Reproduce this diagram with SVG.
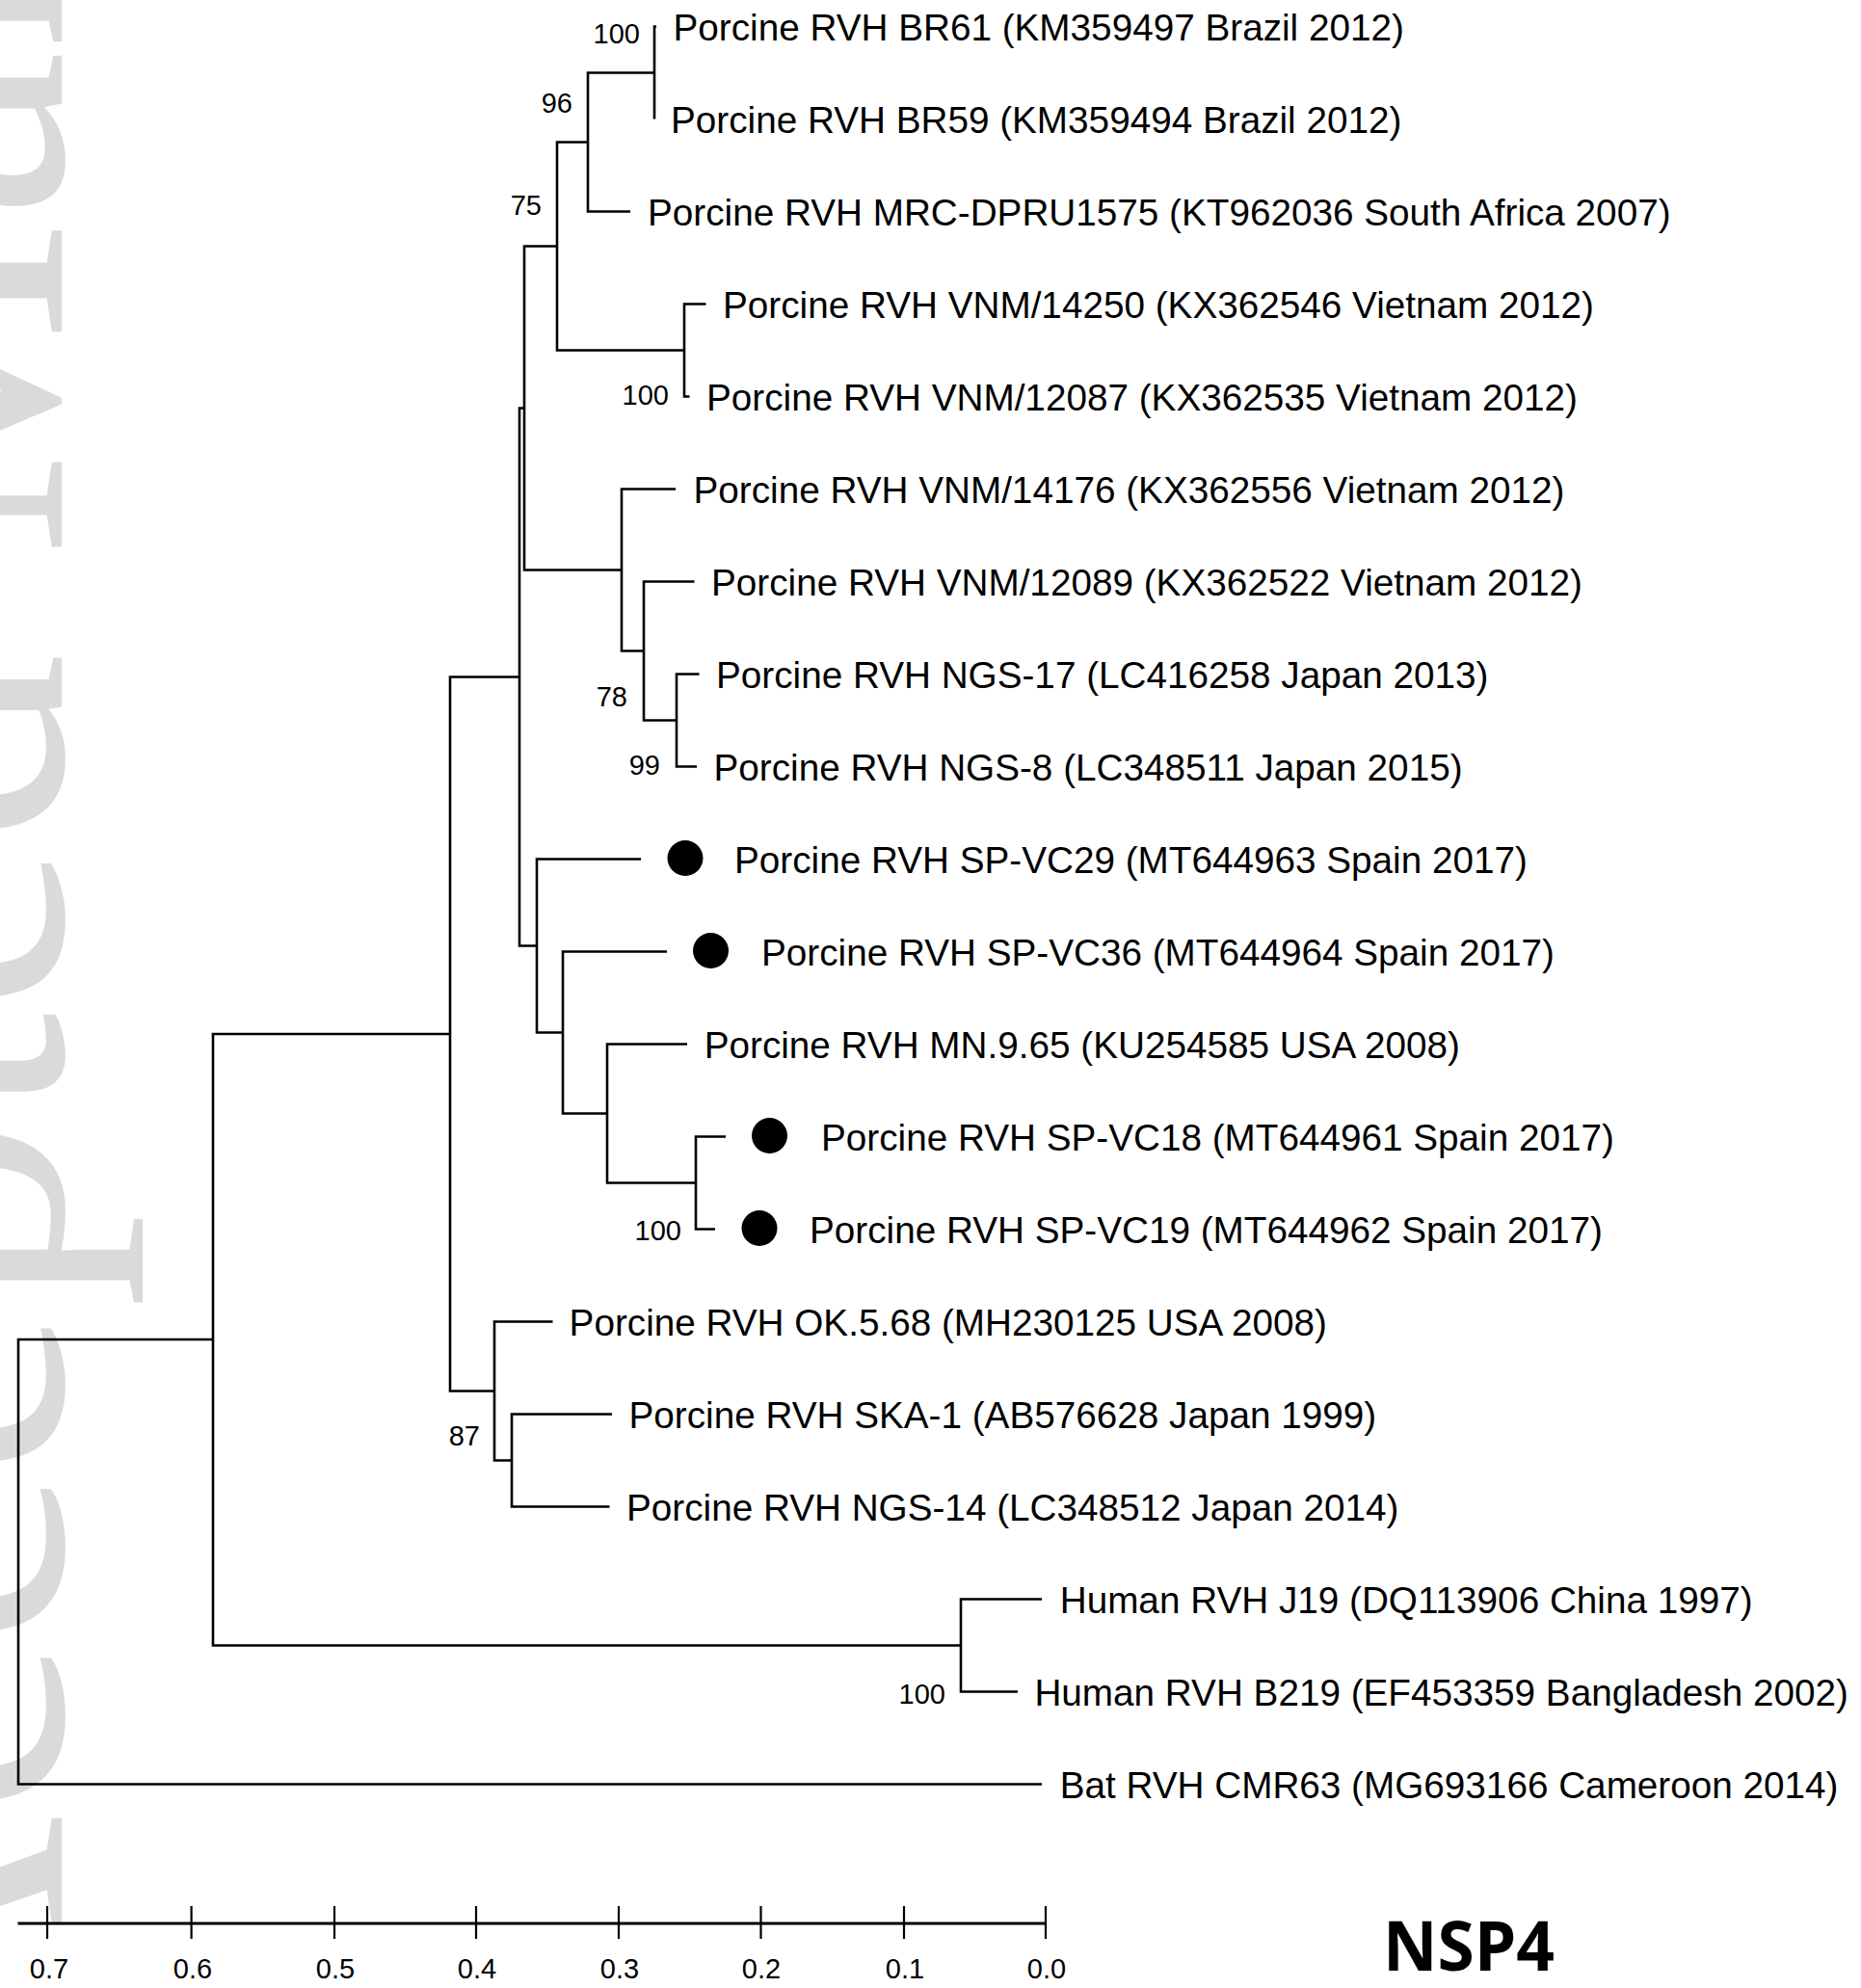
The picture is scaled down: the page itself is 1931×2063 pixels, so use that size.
<svg xmlns="http://www.w3.org/2000/svg" width="1931" height="2063" viewBox="0 0 1931 2063">
<style>
.wm{font-family:"Liberation Serif","Times New Roman",serif;font-size:395px;fill:#dadada}
.lf{font-family:"Liberation Sans",Arial,sans-serif;font-size:38.7px;fill:#000}
.bs{font-family:"Liberation Sans",Arial,sans-serif;font-size:29px;fill:#000;text-anchor:end}
.sc{font-family:"Liberation Sans",Arial,sans-serif;font-size:29px;fill:#000;text-anchor:middle}
.br{fill:none;stroke:#000;stroke-width:2.6;stroke-linejoin:miter;stroke-linecap:butt}
.tk{fill:none;stroke:#000;stroke-width:2.2}
.dot{fill:#000}
.title{font-family:"Open Sans","Liberation Sans",sans-serif;font-weight:bold;font-size:72px;fill:#000}
</style>
<rect width="1931" height="2063" fill="#fff"/>
<text class="wm" transform="translate(64,2169) rotate(-90)">Accepted Manuscript</text>

<g id="connectors">
<path class="br" d="M221 1390 H19 V1851.5 H1081"/>
<path class="br" d="M467 1073 H221 V1707.5 H997"/>
<path class="br" d="M1081 1659.5 H997 V1755.5 H1056"/>
<path class="br" d="M539 702.5 H467 V1443.5 H513"/>
<path class="br" d="M573.5 1371.5 H513 V1515.5 H531"/>
<path class="br" d="M635 1467.5 H531 V1563.5 H632.5"/>
<path class="br" d="M544 423.5 H539 V981.5 H557"/>
<path class="br" d="M578 255.5 H544 V591.5 H645"/>
<path class="br" d="M610 147.5 H578 V363.5 H710"/>
<path class="br" d="M679 75.5 H610 V219.5 H654"/>
<path class="br" d="M681 27.5 H679 V123.5"/>
<path class="br" d="M732.5 315.5 H710 V411.5 H715.5"/>
<path class="br" d="M701 507.5 H645 V675.5 H668"/>
<path class="br" d="M720.5 603.5 H668 V747.5 H702"/>
<path class="br" d="M725.5 699.5 H702 V795.5 H723"/>
<path class="br" d="M665 891.5 H557 V1071.5 H584"/>
<path class="br" d="M692 987.5 H584 V1155.5 H630"/>
<path class="br" d="M713 1083.5 H630 V1227.5 H722"/>
<path class="br" d="M753 1179.5 H722 V1275.5 H742"/>
</g>

<g id="leaf-BR61"><text class="lf" x="698.5" y="41.5">Porcine RVH BR61 (KM359497 Brazil 2012)</text></g>
<g id="leaf-BR59"><text class="lf" x="696" y="137.5">Porcine RVH BR59 (KM359494 Brazil 2012)</text></g>
<g id="leaf-MRC-DPRU1575"><text class="lf" x="672" y="233.5">Porcine RVH MRC-DPRU1575 (KT962036 South Africa 2007)</text></g>
<g id="leaf-VNM14250"><text class="lf" x="750" y="329.5">Porcine RVH VNM/14250 (KX362546 Vietnam 2012)</text></g>
<g id="leaf-VNM12087"><text class="lf" x="733" y="425.5">Porcine RVH VNM/12087 (KX362535 Vietnam 2012)</text></g>
<g id="leaf-VNM14176"><text class="lf" x="719.5" y="521.5">Porcine RVH VNM/14176 (KX362556 Vietnam 2012)</text></g>
<g id="leaf-VNM12089"><text class="lf" x="738" y="617.5">Porcine RVH VNM/12089 (KX362522 Vietnam 2012)</text></g>
<g id="leaf-NGS-17"><text class="lf" x="743" y="713.5">Porcine RVH NGS-17 (LC416258 Japan 2013)</text></g>
<g id="leaf-NGS-8"><text class="lf" x="740.5" y="809.5">Porcine RVH NGS-8 (LC348511 Japan 2015)</text></g>
<g id="leaf-SP-VC29"><circle class="dot" cx="711" cy="890.5" r="18.5"/><text class="lf" x="762" y="905.5">Porcine RVH SP-VC29 (MT644963 Spain 2017)</text></g>
<g id="leaf-SP-VC36"><circle class="dot" cx="737.5" cy="986.5" r="18.5"/><text class="lf" x="790" y="1001.5">Porcine RVH SP-VC36 (MT644964 Spain 2017)</text></g>
<g id="leaf-MN965"><text class="lf" x="730.7" y="1097.5">Porcine RVH MN.9.65 (KU254585 USA 2008)</text></g>
<g id="leaf-SP-VC18"><circle class="dot" cx="798.5" cy="1178.5" r="18.5"/><text class="lf" x="852" y="1193.5">Porcine RVH SP-VC18 (MT644961 Spain 2017)</text></g>
<g id="leaf-SP-VC19"><circle class="dot" cx="788" cy="1274.5" r="18.5"/><text class="lf" x="840" y="1289.5">Porcine RVH SP-VC19 (MT644962 Spain 2017)</text></g>
<g id="leaf-OK568"><text class="lf" x="590.6" y="1385.5">Porcine RVH OK.5.68 (MH230125 USA 2008)</text></g>
<g id="leaf-SKA-1"><text class="lf" x="652.5" y="1481.5">Porcine RVH SKA-1 (AB576628 Japan 1999)</text></g>
<g id="leaf-NGS-14"><text class="lf" x="650" y="1577.5">Porcine RVH NGS-14 (LC348512 Japan 2014)</text></g>
<g id="leaf-J19"><text class="lf" x="1099.7" y="1673.5">Human RVH J19 (DQ113906 China 1997)</text></g>
<g id="leaf-B219"><text class="lf" x="1073.4" y="1769.5">Human RVH B219 (EF453359 Bangladesh 2002)</text></g>
<g id="leaf-CMR63"><text class="lf" x="1099.7" y="1865.5">Bat RVH CMR63 (MG693166 Cameroon 2014)</text></g>

<g id="node-bootstrap">
<text class="bs" x="664" y="45">100</text>
<text class="bs" x="594" y="117">96</text>
<text class="bs" x="562" y="223">75</text>
<text class="bs" x="694" y="420">100</text>
<text class="bs" x="651" y="733">78</text>
<text class="bs" x="685" y="804">99</text>
<text class="bs" x="707" y="1287">100</text>
<text class="bs" x="498" y="1500">87</text>
<text class="bs" x="981" y="1768">100</text>
</g>

<g id="scale-bar">
<path class="br" style="stroke-width:3" d="M18.5 1996 H1085"/>
<path class="tk" d="M49 1978 V2012 M198.6 1978 V2012 M347 1978 V2012 M494 1978 V2012 M642 1978 V2012 M789.5 1978 V2012 M938 1978 V2012 M1085 1978 V2012"/>
<text class="sc" x="51" y="2053">0.7</text>
<text class="sc" x="200" y="2053">0.6</text>
<text class="sc" x="348" y="2053">0.5</text>
<text class="sc" x="495" y="2053">0.4</text>
<text class="sc" x="643" y="2053">0.3</text>
<text class="sc" x="790" y="2053">0.2</text>
<text class="sc" x="939" y="2053">0.1</text>
<text class="sc" x="1086" y="2053">0.0</text>
</g>

<g id="title"><text class="title" x="1435" y="2045" textLength="178" lengthAdjust="spacingAndGlyphs">NSP4</text></g>
</svg>
